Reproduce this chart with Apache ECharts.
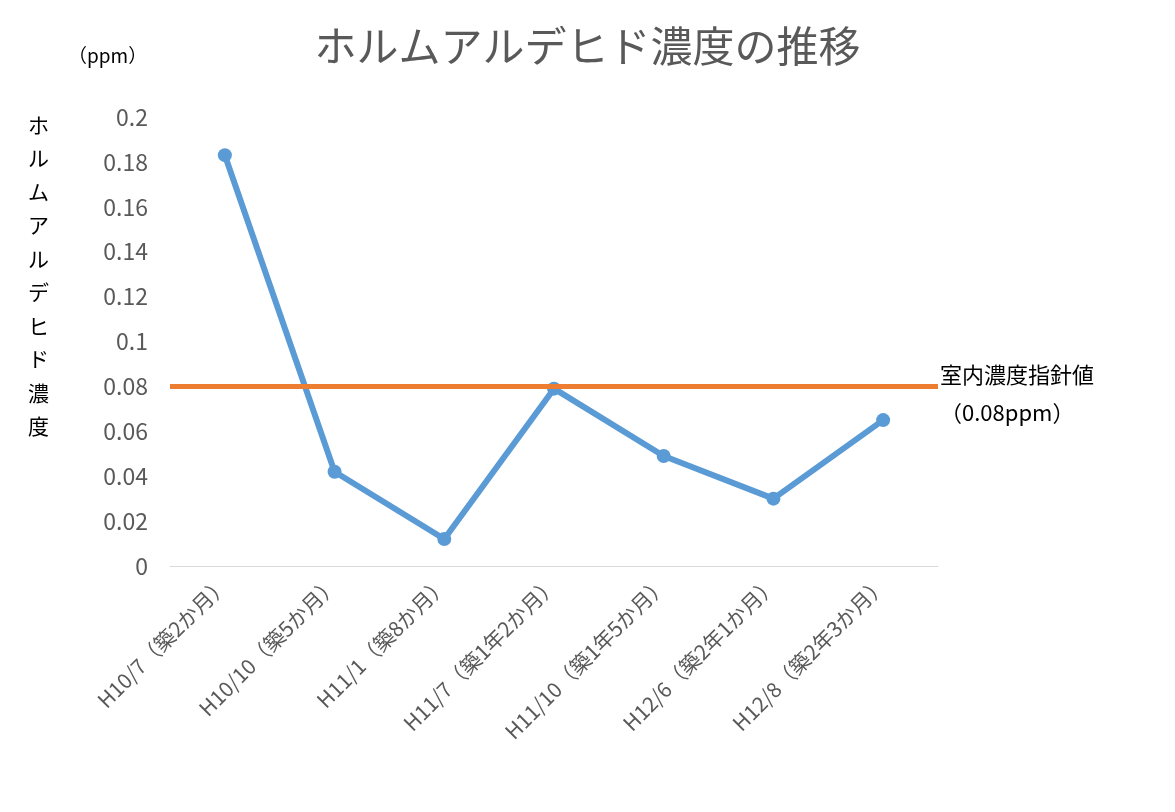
<!DOCTYPE html>
<html><head><meta charset="utf-8">
<script src="https://cdn.jsdelivr.net/npm/echarts@6/dist/echarts.min.js"></script>
<style>html,body{margin:0;padding:0;background:#fff}#c{width:1175px;height:812px}</style>
</head><body><div id="c"></div>
<script>
const categories = ['H10/7（築2か月）','H10/10（築5か月）','H11/1（築8か月）','H11/7（築1年2か月）','H11/10（築1年5か月）','H12/6（築2年1か月）','H12/8（築2年3か月）'];
const values = [0.183, 0.042, 0.012, 0.079, 0.049, 0.030, 0.065];
const guideline = 0.08;
const font = '"Noto Sans CJK JP", sans-serif';
const chart = echarts.init(document.getElementById('c'));
chart.setOption({
  animation:false,
  title:{text:'ホルムアルデヒド濃度の推移',left:'center',top:20,itemGap:0,textStyle:{fontSize:42,fontWeight:'normal',color:'#595959',fontFamily:font,letterSpacing:2}},
  grid:{left:170,right:237,top:117,bottom:246},
  xAxis:{type:'category',data:categories,axisTick:{show:false},
    axisLine:{lineStyle:{color:'#d9d9d9'}},
    axisLabel:{rotate:45,fontSize:21,color:'#595959',fontFamily:font,interval:0,margin:14}},
  yAxis:{type:'value',min:0,max:0.2,interval:0.02,splitLine:{show:false},
    axisLabel:{fontSize:23,color:'#595959',fontFamily:font,margin:22,formatter:v=>String(+v.toFixed(2))}},
  graphic:[
    {type:'text',left:68,top:46,style:{text:'（ppm）',fontSize:19,fill:'#000',fontFamily:font}},
    {type:'text',left:28,top:108,style:{text:'ホ\nル\nム\nア\nル\nデ\nヒ\nド\n濃\n度',fontSize:21,lineHeight:33.5,fill:'#000',fontFamily:font}},
    {type:'text',left:940,top:356,style:{text:'室内濃度指針値\n（0.08ppm）',fontSize:22,lineHeight:38,fill:'#000',fontFamily:font}}
  ],
  series:[{type:'line',data:values,symbol:'circle',symbolSize:14,
    lineStyle:{width:6,color:'#5b9bd5'},itemStyle:{color:'#5b9bd5'},z:3,
    markLine:{symbol:'none',silent:true,label:{show:false},lineStyle:{type:'solid',width:5,color:'#ed7d31'},
      data:[{yAxis:guideline}]}}]
});
</script></body></html>
